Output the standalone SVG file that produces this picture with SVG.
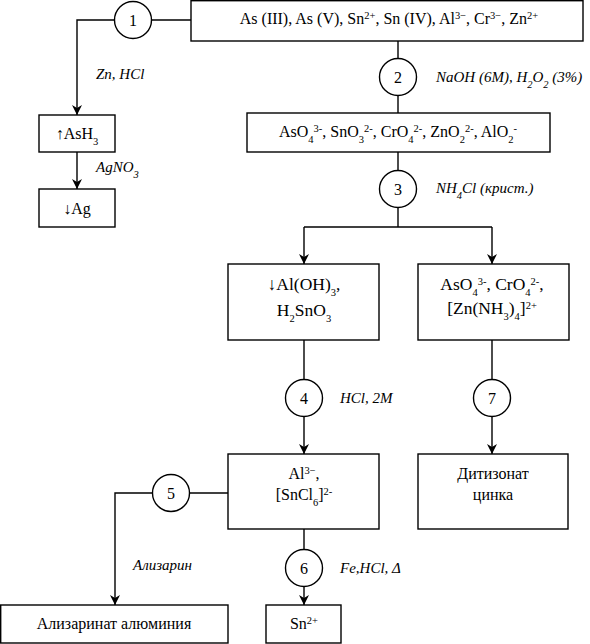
<svg xmlns="http://www.w3.org/2000/svg" width="590" height="644" viewBox="0 0 590 644" font-family="'Liberation Serif', 'Times New Roman', 'DejaVu Serif', serif">
<defs>
<marker id="ah" markerWidth="10" markerHeight="12" refX="10" refY="5" orient="auto" markerUnits="userSpaceOnUse" viewBox="0 0 10 10">
<path d="M0,0 L10,5 L0,10 L3,5 Z" fill="#000"/>
</marker>
<style>
.box{fill:#fff;stroke:#000;stroke-width:1.4}
.cir{fill:#fff;stroke:#000;stroke-width:1.4}
.ln{fill:none;stroke:#000;stroke-width:1.4}
text{font-family:'Liberation Serif','Times New Roman','DejaVu Serif',serif}
.t{font-size:16px;fill:#000;text-anchor:middle}
.big{font-size:17.5px}
.n{font-size:16px;fill:#000;text-anchor:middle}
.lb{font-size:15px;font-style:italic;fill:#000}
.sp{font-size:10.5px;baseline-shift:super}
.sb{font-size:10.5px;baseline-shift:sub}
</style>
</defs>
<rect width="590" height="644" fill="#fff"/>
<g id="connectors">
<path class="ln" d="M191,20 H152"/>
<path class="ln" d="M115,20 H77 V115" marker-end="url(#ah)"/>
<path class="ln" d="M77,152 V189" marker-end="url(#ah)"/>
<path class="ln" d="M398,41 V113"/>
<path class="ln" d="M398,152 V227"/>
<path class="ln" d="M304,227 H492"/>
<path class="ln" d="M304,227 V264" marker-end="url(#ah)"/>
<path class="ln" d="M492,227 V264" marker-end="url(#ah)"/>
<path class="ln" d="M304,340 V454" marker-end="url(#ah)"/>
<path class="ln" d="M492,340 V454" marker-end="url(#ah)"/>
<path class="ln" d="M228,493 H190"/>
<path class="ln" d="M152,493 H115 V605" marker-end="url(#ah)"/>
<path class="ln" d="M304,529 V605" marker-end="url(#ah)"/>
</g>
<g id="n1"><circle class="cir" cx="133" cy="20" r="18.5"/><text class="n" x="133" y="26">1</text></g>
<g id="n2"><circle class="cir" cx="398" cy="77" r="18.5"/><text class="n" x="398" y="83">2</text></g>
<g id="n3"><circle class="cir" cx="398" cy="189" r="18.5"/><text class="n" x="398" y="195">3</text></g>
<g id="n4"><circle class="cir" cx="304" cy="398" r="18.5"/><text class="n" x="304" y="404">4</text></g>
<g id="n5"><circle class="cir" cx="171" cy="493" r="18.5"/><text class="n" x="171" y="499">5</text></g>
<g id="n6"><circle class="cir" cx="304" cy="568" r="18.5"/><text class="n" x="304" y="574">6</text></g>
<g id="n7"><circle class="cir" cx="492" cy="398" r="18.5"/><text class="n" x="492" y="404">7</text></g>
<g id="top"><rect class="box" x="191" y="0.7" width="392" height="40.3"/>
<text class="t" x="389" y="24">As (III), As (V), Sn<tspan class="sp">2+</tspan>, Sn (IV), Al<tspan class="sp">3−</tspan>, Cr<tspan class="sp">3−</tspan>, Zn<tspan class="sp">2+</tspan></text></g>
<g id="ash3"><rect class="box" x="39" y="115" width="76" height="37"/><text class="t" x="77" y="139">↑AsH<tspan class="sb">3</tspan></text></g>
<g id="ag"><rect class="box" x="39" y="189" width="76" height="38"/><text class="t" x="77" y="214">↓Ag</text></g>
<g id="anions"><rect class="box" x="247" y="113" width="303" height="39"/>
<text class="t" x="398" y="137">AsO<tspan class="sb">4</tspan><tspan class="sp">3-</tspan>, SnO<tspan class="sb">3</tspan><tspan class="sp">2-</tspan>, CrO<tspan class="sb">4</tspan><tspan class="sp">2-</tspan>, ZnO<tspan class="sb">2</tspan><tspan class="sp">2-</tspan>, AlO<tspan class="sb">2</tspan><tspan class="sp">-</tspan></text></g>
<g id="precip"><rect class="box" x="228" y="264" width="151" height="76"/>
<text class="t big" x="304" y="290">↓Al(OH)<tspan class="sb">3</tspan>,</text>
<text class="t big" x="304" y="316">H<tspan class="sb">2</tspan>SnO<tspan class="sb">3</tspan></text></g>
<g id="soln"><rect class="box" x="418" y="264" width="151" height="76"/>
<text class="t big" x="492" y="290">AsO<tspan class="sb">4</tspan><tspan class="sp">3-</tspan>, CrO<tspan class="sb">4</tspan><tspan class="sp">2-</tspan>,</text>
<text class="t big" x="492" y="314">[Zn(NH<tspan class="sb">3</tspan>)<tspan class="sb">4</tspan>]<tspan class="sp">2+</tspan></text></g>
<g id="alsn"><rect class="box" x="228" y="454" width="151" height="75"/>
<text class="t" x="304" y="479">Al<tspan class="sp">3−</tspan>,</text>
<text class="t" x="304" y="500">[SnCl<tspan class="sb">6</tspan>]<tspan class="sp">2-</tspan></text></g>
<g id="dithizone"><rect class="box" x="418" y="454" width="150" height="75"/>
<text class="t" x="493" y="479">Дитизонат</text>
<text class="t" x="493" y="500">цинка</text></g>
<g id="alizarinate"><rect class="box" x="0.7" y="605" width="227.3" height="38"/><text class="t" x="114" y="629">Ализаринат алюминия</text></g>
<g id="sn2"><rect class="box" x="266" y="605" width="75" height="38"/><text class="t" x="304" y="629">Sn<tspan class="sp">2+</tspan></text></g>
<g id="labels">
<text class="lb" x="96" y="79">Zn, HCl</text>
<text class="lb" x="96" y="172">AgNO<tspan class="sb">3</tspan></text>
<text class="lb" x="436" y="82">NaOH (6M), H<tspan class="sb">2</tspan>O<tspan class="sb">2</tspan> (3%)</text>
<text class="lb" x="436" y="193">NH<tspan class="sb">4</tspan>Cl (крист.)</text>
<text class="lb" x="340" y="403">HCl, 2M</text>
<text class="lb" x="133" y="570">Ализарин</text>
<text class="lb" x="340" y="573">Fe,HCl, Δ</text>
</g>
</svg>
